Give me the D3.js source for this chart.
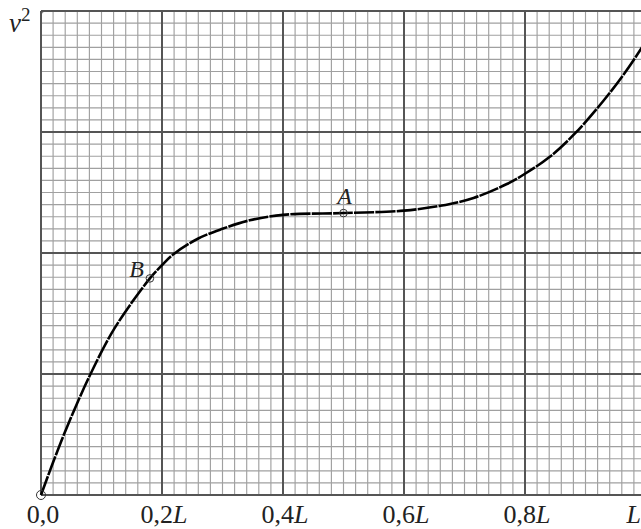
<!DOCTYPE html>
<html>
<head>
<meta charset="utf-8">
<script src="https://cdn.jsdelivr.net/npm/d3@7"></script>
<style>
  body { margin: 0; background: #fff; }
  text { font-family: "Liberation Serif", "DejaVu Serif", serif; fill: #222; }
</style>
</head>
<body>
<svg id="chart" width="641" height="529"></svg>
<script>
// curve (x in L, v^2 in major squares)
var xs = [0, 0.02, 0.042, 0.079, 0.117, 0.15, 0.18, 0.2, 0.219, 0.26, 0.30, 0.345, 0.40, 0.50, 0.60, 0.66, 0.715, 0.77, 0.80, 0.841, 0.883, 0.93, 0.968, 1.0];
var vs = [0, 0.27, 0.55, 0.97, 1.34, 1.59, 1.79, 1.9, 1.99, 2.12, 2.20, 2.27, 2.315, 2.33, 2.35, 2.39, 2.455, 2.57, 2.655, 2.795, 2.99, 3.26, 3.51, 3.75];

// marked points
var pointNames = ["", "B", "A"];
var pointX = [0, 0.18, 0.5];
var pointV = [0, 1.79, 2.33];

// tick labels along x
var tickPre = ["0,0", "0,2", "0,4", "0,6", "0,8", ""];
var tickL = ["", "L", "L", "L", "L", "L"];

var X0 = 41, Y0 = 495, SQ = 121;

var x = d3.scaleLinear().domain([0, 1]).range([X0, X0 + 5 * SQ]);
var y = d3.scaleLinear().domain([0, 4]).range([Y0, Y0 - 4 * SQ]);

var svg = d3.select("#chart");
var grid = svg.append("g");

// minor grid
grid.selectAll(".vmin")
    .data(d3.range(0, 51).map(function(i){ return i / 50; }))
    .enter().append("line")
    .attr("x1", function(d){ return x(d); })
    .attr("x2", function(d){ return x(d); })
    .attr("y1", y(4)).attr("y2", y(0))
    .style("stroke", "#a0a0a0").style("stroke-width", 1.15);

grid.selectAll(".hmin")
    .data(d3.range(0, 41).map(function(i){ return i / 10; }))
    .enter().append("line")
    .attr("y1", function(d){ return y(d); })
    .attr("y2", function(d){ return y(d); })
    .attr("x1", x(0)).attr("x2", x(1))
    .style("stroke", "#a0a0a0").style("stroke-width", 1.15);

// major grid
grid.selectAll(".vmaj")
    .data(x.ticks(5))
    .enter().append("line")
    .attr("x1", function(d){ return x(d); })
    .attr("x2", function(d){ return x(d); })
    .attr("y1", y(4)).attr("y2", y(0))
    .style("stroke", "#555").style("stroke-width", 2);

grid.selectAll(".hmaj")
    .data(y.ticks(4))
    .enter().append("line")
    .attr("y1", function(d){ return y(d); })
    .attr("y2", function(d){ return y(d); })
    .attr("x1", x(0)).attr("x2", x(1))
    .style("stroke", "#555").style("stroke-width", 2);

// frame
grid.append("rect")
    .attr("x", x(0)).attr("y", y(4))
    .attr("width", x(1) - x(0)).attr("height", y(0) - y(4))
    .attr("rx", 3)
    .style("fill", "none")
    .style("stroke", "#555").style("stroke-width", 2);

// the curve
var line = d3.line()
    .x(function(d){ return x(d[0]); })
    .y(function(d){ return y(d[1]); })
    .curve(d3.curveCatmullRom.alpha(0.5));

svg.append("path")
    .datum(d3.zip(xs, vs))
    .attr("d", line)
    .style("fill", "none")
    .style("stroke", "#000")
    .style("stroke-width", 2.6)
    .style("stroke-dasharray", "20,1.2");

// points
svg.selectAll(".pt")
    .data(d3.zip(pointX, pointV))
    .enter().append("circle")
    .attr("cx", function(d){ return x(d[0]); })
    .attr("cy", function(d){ return y(d[1]); })
    .attr("r", function(d, i){ return i === 0 ? 4.5 : 3.8; })
    .style("fill", "none")
    .style("stroke", "#333").style("stroke-width", 1);

svg.append("text")
    .attr("x", x(pointX[2]) + 1).attr("y", y(pointV[2]) - 9)
    .attr("text-anchor", "middle")
    .style("font-size", "24px").style("font-style", "italic")
    .text(pointNames[2]);

svg.append("text")
    .attr("x", x(pointX[1]) - 6).attr("y", y(pointV[1]) - 1)
    .attr("text-anchor", "end")
    .style("font-size", "24px").style("font-style", "italic")
    .text(pointNames[1]);

// y label
var yl = svg.append("text").attr("x", 9).attr("y", 32).style("font-size", "27px");
yl.append("tspan").style("font-style", "italic").text("v");
yl.append("tspan").attr("dy", -11).style("font-size", "19px").text("2");

// x tick labels
var xl = svg.selectAll(".xl")
    .data(x.ticks(5))
    .enter().append("text")
    .attr("x", function(d, i){ return i === 5 ? 641 : x(d) + 2; })
    .attr("y", 523)
    .attr("text-anchor", function(d, i){ return i === 5 ? "end" : "middle"; })
    .style("font-size", "26px");

xl.append("tspan").text(function(d, i){ return tickPre[i]; });
xl.append("tspan").style("font-style", "italic").text(function(d, i){ return tickL[i]; });
</script>
</body>
</html>
